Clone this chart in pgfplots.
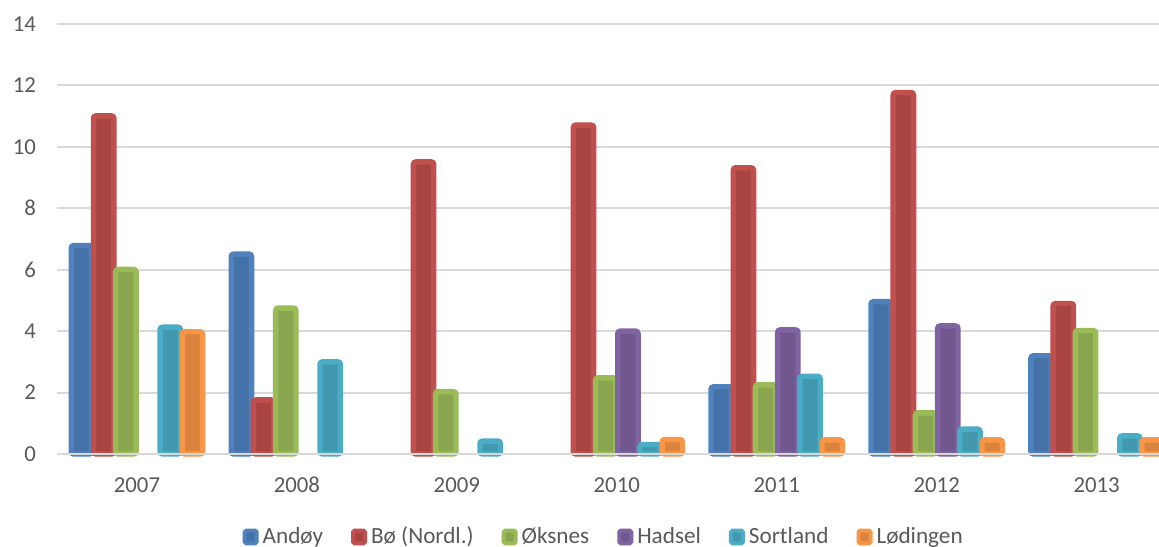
\documentclass[border=0pt]{standalone}
\usepackage{pgfplots}
\pgfplotsset{compat=1.18}
\usepackage{fontspec}
\setmainfont{Carlito}
\definecolor{txt}{HTML}{595959}
\definecolor{gridc}{HTML}{D9D9D9}
\definecolor{aL}{HTML}{4F81BD}\definecolor{aD}{HTML}{4472A8}
\definecolor{bL}{HTML}{C0504D}\definecolor{bD}{HTML}{A84542}
\definecolor{cL}{HTML}{9BBB59}\definecolor{cD}{HTML}{89A54E}
\definecolor{dL}{HTML}{8064A2}\definecolor{dD}{HTML}{70588E}
\definecolor{eL}{HTML}{4BACC6}\definecolor{eD}{HTML}{4298AE}
\definecolor{fL}{HTML}{F79646}\definecolor{fD}{HTML}{D9833E}
\begin{document}
\begin{tikzpicture}
\begin{axis}[
  scale only axis,
  width=551pt, height=215pt,
  xmin=-0.5, xmax=6.39,
  ymin=0, ymax=14,
  ytick={0,2,...,14},
  xtick={0,...,6},
  xticklabels={2007,2008,2009,2010,2011,2012,2013},
  axis line style={draw=none},
  major tick length=0pt,
  xmajorgrids=false,
  ymajorgrids=true,
  major grid style={draw=gridc, line width=1pt},
  tick label style={font=\fontsize{11.4}{13}\selectfont, text=txt},
  /pgf/number format/assume math mode=true,
  yticklabel style={xshift=-7pt},
  xticklabel style={yshift=-8.5pt, text height=7.4pt, text depth=0pt},
  clip=false,
  ybar, bar width=10.2pt,
  every axis plot/.append style={line width=2.7pt, rounded corners=1.3pt},
  legend columns=6,
  legend style={draw=none, fill=none, at={(rel axis cs:0.497,0)}, yshift=-41.5pt, anchor=center,
    font=\fontsize{11.6}{13}\selectfont, text=txt,
    /tikz/every even column/.append style={column sep=12pt}},
  legend image code/.code={\draw[#1, line width=2pt, rounded corners=0.8pt] (0pt,-3.2pt) rectangle (6pt,3.2pt);},
]
\addplot[fill=aD, draw=aL, bar shift=-27.75pt] coordinates {(0,6.79) (1,6.51) (4,2.19) (5,4.96) (6,3.2)};
\addplot[fill=bD, draw=bL, bar shift=-16.65pt] coordinates {(0,11.01) (1,1.76) (2,9.51) (3,10.71) (4,9.32) (5,11.77) (6,4.9)};
\addplot[fill=cD, draw=cL, bar shift=-5.55pt] coordinates {(0,6.01) (1,4.75) (2,2.03) (3,2.48) (4,2.25) (5,1.34) (6,4.02)};
\addplot[fill=dD, draw=dL, bar shift=5.55pt] coordinates {(3,4.0) (4,4.04) (5,4.17)};
\addplot[fill=eD, draw=eL, bar shift=16.65pt] coordinates {(0,4.13) (1,3.0) (2,0.42) (3,0.31) (4,2.53) (5,0.81) (6,0.59)};
\addplot[fill=fD, draw=fL, bar shift=27.75pt] coordinates {(0,3.98) (3,0.47) (4,0.46) (5,0.46) (6,0.46)};
\legend{Andøy, Bø (Nordl.), Øksnes, Hadsel, Sortland, Lødingen}
\draw[gridc, line width=1pt] (rel axis cs:0,0) -- (rel axis cs:1,0);
\end{axis}
\pgfresetboundingbox
\path[use as bounding box] ([shift={(-28.5pt,-46.5pt)}]current axis.south west) rectangle ([shift={(0pt,12pt)}]current axis.north east);
\end{tikzpicture}
\end{document}
